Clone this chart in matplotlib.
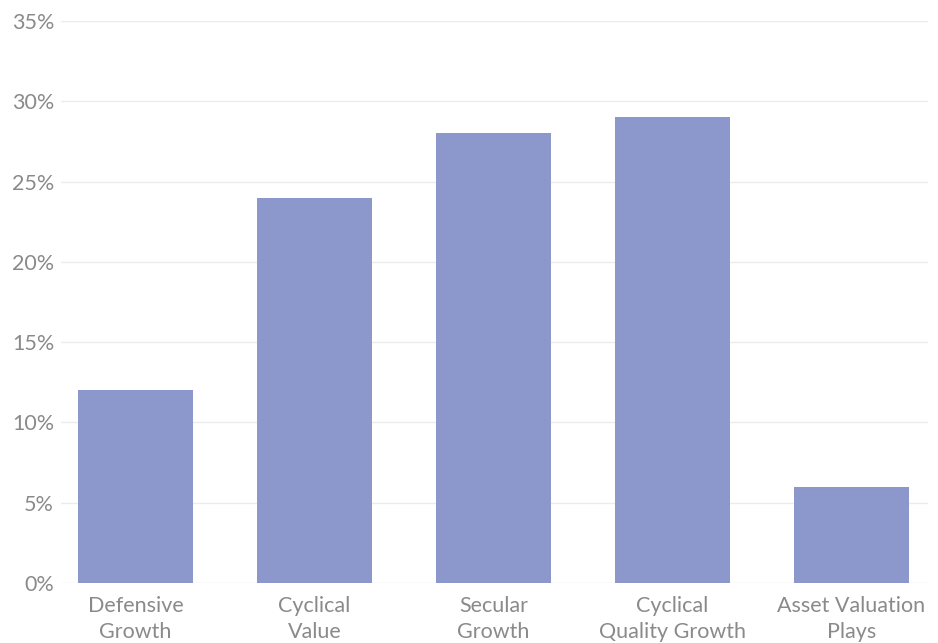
import matplotlib
matplotlib.use("Agg")
import matplotlib.pyplot as plt
from matplotlib.ticker import FuncFormatter

categories = ["Defensive\nGrowth", "Cyclical\nValue", "Secular\nGrowth",
              "Cyclical\nQuality Growth", "Asset Valuation\nPlays"]
values = [12, 24, 28, 29, 6]
yticks = [0, 5, 10, 15, 20, 25, 30, 35]

plt.rcParams['font.family'] = ['Lato', 'DejaVu Sans']

fig = plt.figure(figsize=(9.38, 6.43), dpi=100)
ax = fig.add_axes([61/938, 1 - 583/643, (928-61)/938, (583-21)/643])

x = list(range(len(categories)))
ax.bar(x, values, width=0.643, color="#8c97cb", zorder=2)

ax.set_ylim(0, 35)
ax.set_xlim(-0.416, 4.428)
ax.set_yticks(yticks)
ax.yaxis.set_major_formatter(FuncFormatter(lambda v, p: f"{v:.0f}%"))
ax.set_xticks(x)
ax.set_xticklabels(categories, linespacing=1.4)
ax.grid(axis='y', color="#ebebeb", linewidth=1, zorder=0)
for s in ax.spines.values():
    s.set_visible(False)
ax.tick_params(axis='both', length=0, labelsize=15.5, colors="#8a8a8a")
ax.tick_params(axis='y', pad=5)
ax.tick_params(axis='x', pad=9)

fig.savefig("out.png", dpi=100)
